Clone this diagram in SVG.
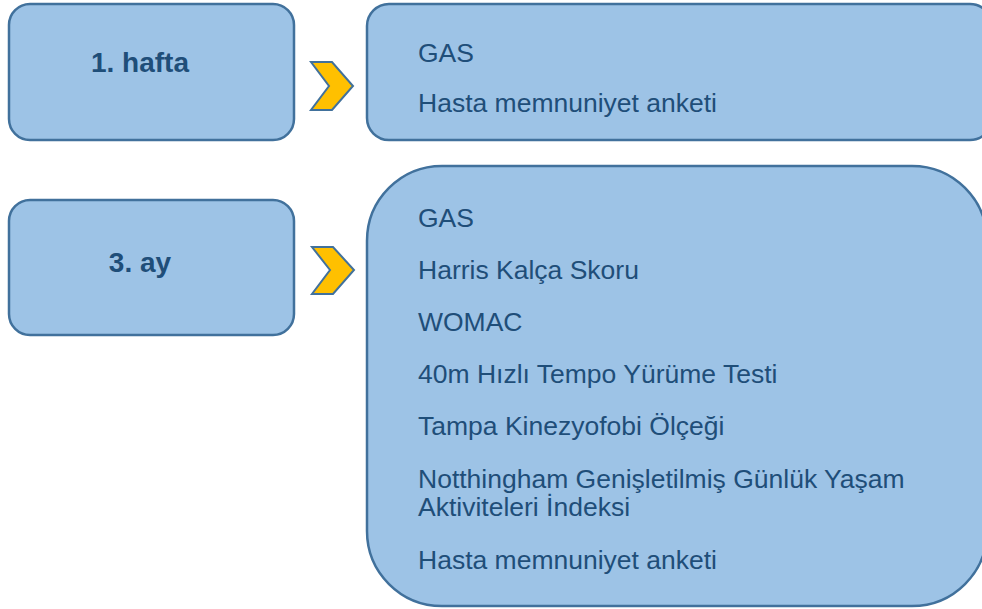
<svg xmlns="http://www.w3.org/2000/svg" width="982" height="609" viewBox="0 0 982 609">
<style>
.box{fill:#9DC3E6;stroke:#41719C;stroke-width:2.5}
.chev{fill:#FFC000;stroke:#41719C;stroke-width:2}
.lbl{font-family:"Liberation Sans",Arial,sans-serif;font-size:28px;font-weight:bold;fill:#1F4E79;text-anchor:middle}
.itm{font-family:"Liberation Sans",Arial,sans-serif;font-size:26.5px;fill:#1F4E79}
</style>
<rect width="982" height="609" fill="#FFFFFF"/>
<g id="node-hafta">
<rect class="box" x="9" y="4" width="285" height="136" rx="21"/>
<text class="lbl" x="140" y="72">1. hafta</text>
</g>
<g id="node-hafta-items">
<rect class="box" x="367" y="4" width="625" height="136" rx="22"/>
<text class="itm" x="418" y="62">GAS</text>
<text class="itm" x="418" y="112">Hasta memnuniyet anketi</text>
</g>
<g id="node-ay">
<rect class="box" x="9" y="200" width="285" height="135" rx="21"/>
<text class="lbl" x="140" y="272">3. ay</text>
</g>
<g id="node-ay-items">
<rect class="box" x="367" y="166" width="620" height="440" rx="75"/>
<text class="itm" x="418" y="227">GAS</text>
<text class="itm" x="418" y="279">Harris Kalça Skoru</text>
<text class="itm" x="418" y="331">WOMAC</text>
<text class="itm" x="418" y="383">40m Hızlı Tempo Yürüme Testi</text>
<text class="itm" x="418" y="435">Tampa Kinezyofobi Ölçeği</text>
<text class="itm" x="418" y="488">Notthingham Genişletilmiş Günlük Yaşam</text>
<text class="itm" x="418" y="516">Aktiviteleri İndeksi</text>
<text class="itm" x="418" y="569">Hasta memnuniyet anketi</text>
</g>
<g id="connectors">
<polygon class="chev" points="311,62 332,62 353,86 332,110 311,110 329,86"/>
<polygon class="chev" points="312,247 333,247 354,270 333,294 312,294 330,270"/>
</g>
</svg>
